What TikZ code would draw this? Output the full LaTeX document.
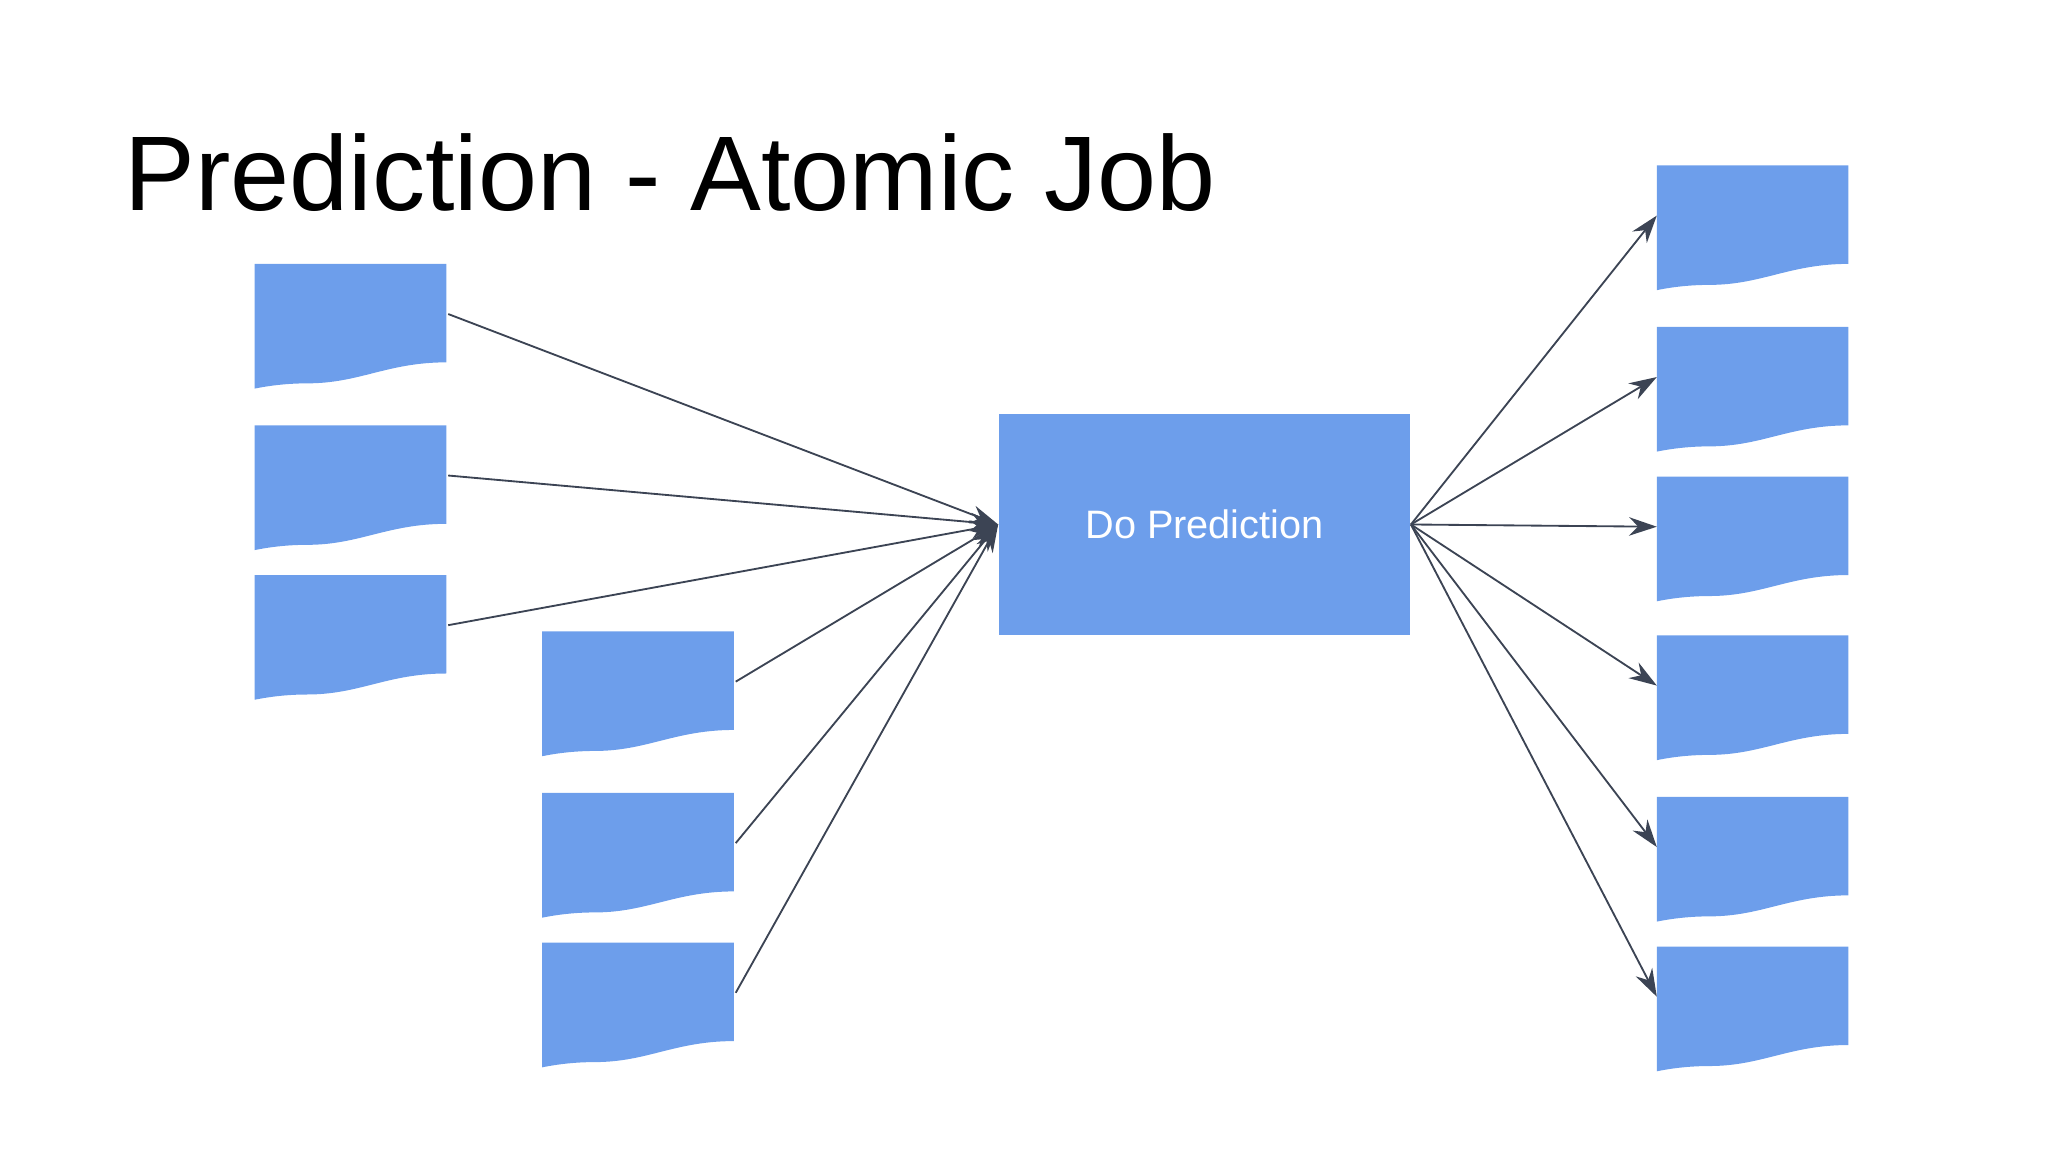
\documentclass[tikz,border=0pt]{standalone}
\usepackage{fontspec}
\setmainfont{Liberation Sans}
\usetikzlibrary{arrows.meta}
\definecolor{docblue}{HTML}{6D9EEB}
\definecolor{linkgray}{HTML}{3C4454}

\tikzset{
  docbody/.style={fill=docblue, draw=none},
  link/.style={linkgray, thin, -{Stealth[length=6pt,width=4pt]}},
  docanchor/.style={inner sep=0pt, minimum width=1.46cm, minimum height=0.75cm, anchor=north west}
}

% document shape with a wavy lower edge, named by #1, top left corner at (#2,#3)
\newcommand{\docnode}[3]{%
  \fill[docbody] (#2,#3) -- ++(1.46,0) -- ++(0,-0.75)
    .. controls ++(-0.45,0) and ++(0.4,0) .. ++(-1.06,-0.16)
    .. controls ++(-0.2,0) and ++(0.05,0.01) .. ++(-0.4,-0.04) -- cycle;
  \node[docanchor] (#1) at (#2,#3) {};
}

\begin{document}
\begin{tikzpicture}
        \useasboundingbox (0,0) rectangle (15.6,-8.775);

        % Titel
        \node[anchor=base west, font=\fontsize{23}{26}\selectfont, inner sep=0pt] (title) at (0.94,-1.6) {Prediction - Atomic Job};

        % Eingaben
        \docnode{in1}{1.94}{-2.01}
        \docnode{in2}{1.94}{-3.24}
        \docnode{in3}{1.94}{-4.38}
        \docnode{in4}{4.13}{-4.81}
        \docnode{in5}{4.13}{-6.04}
        \docnode{in6}{4.13}{-7.18}

        % Ausgaben
        \docnode{out1}{12.62}{-1.26}
        \docnode{out2}{12.62}{-2.49}
        \docnode{out3}{12.62}{-3.63}
        \docnode{out4}{12.62}{-4.84}
        \docnode{out5}{12.62}{-6.07}
        \docnode{out6}{12.62}{-7.21}

        % Job
        \node[fill=docblue, minimum width=3.13cm, minimum height=1.69cm, inner sep=0pt,
              text=white, font=\fontsize{8.6}{10}\selectfont] (job) at (9.175,-3.995) {Do Prediction};

        % Pfeile
        \foreach \i in {1,...,6} \draw[link] (in\i.east) -- (job.west);
        \foreach \i in {1,...,6} \draw[link] (job.east) -- (out\i.west);
\end{tikzpicture}
\end{document}
